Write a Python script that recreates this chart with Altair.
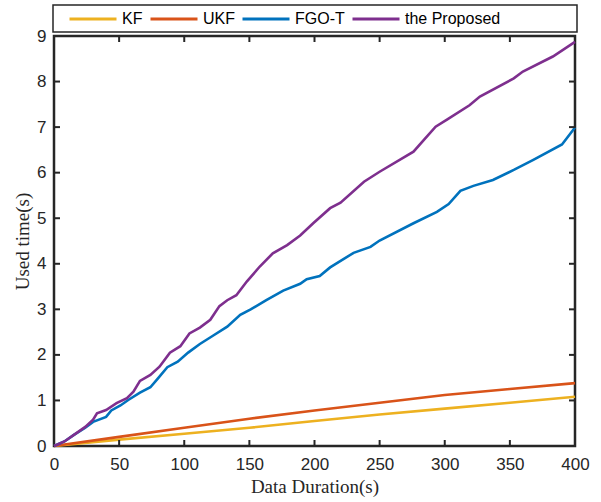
import altair as alt
import pandas as pd

# Series names and colours
series = ["KF", "UKF", "FGO-T", "the Proposed"]
colors = ["#EDB120", "#D95319", "#0072BD", "#7E2F8E"]

# Used time (s) against data duration (s) for each method
kf_t = [0, 50, 100, 150, 200, 250, 300, 350, 400]
kf_v = [0, 0.14, 0.27, 0.40, 0.55, 0.69, 0.82, 0.95, 1.08]

ukf_t = [0, 50, 100, 150, 200, 250, 300, 350, 400]
ukf_v = [0, 0.20, 0.40, 0.60, 0.78, 0.95, 1.12, 1.25, 1.38]

fgo_t = [0, 8, 15, 24, 30, 40, 44, 51, 57, 66, 74, 80, 87, 95, 103, 112, 122,
         133, 143, 151, 163, 176, 189, 194, 204, 212, 230, 243, 250, 276, 294,
         303, 312, 322, 337, 353, 368, 390, 400]
fgo_v = [0, 0.10, 0.24, 0.40, 0.53, 0.64, 0.78, 0.89, 1.01, 1.17, 1.29, 1.49,
         1.73, 1.85, 2.05, 2.24, 2.42, 2.62, 2.88, 3.00, 3.20, 3.41, 3.56, 3.66,
         3.73, 3.92, 4.24, 4.37, 4.51, 4.89, 5.14, 5.31, 5.60, 5.71, 5.84, 6.06,
         6.28, 6.62, 6.99]

prop_t = [0, 8, 15, 24, 30, 33, 40, 48, 56, 61, 66, 74, 81, 89, 97, 104, 112,
          120, 127, 133, 140, 148, 158, 168, 179, 189, 199, 212, 220, 238, 250,
          276, 284, 293, 302, 319, 327, 353, 360, 383, 400]
prop_v = [0, 0.10, 0.24, 0.42, 0.58, 0.72, 0.79, 0.94, 1.05, 1.19, 1.43, 1.56,
          1.74, 2.05, 2.19, 2.47, 2.60, 2.77, 3.07, 3.20, 3.31, 3.61, 3.94, 4.23,
          4.41, 4.62, 4.89, 5.22, 5.34, 5.80, 6.02, 6.46, 6.72, 7.01, 7.17, 7.48,
          7.67, 8.07, 8.22, 8.55, 8.87]

x_ticks = [0, 50, 100, 150, 200, 250, 300, 350, 400]
y_ticks = [0, 1, 2, 3, 4, 5, 6, 7, 8, 9]

W, H = 521, 410
AXIS = "#262626"
SANS = "Liberation Sans"
SERIF = "Liberation Serif"

frames = []
for name, t, v in [("KF", kf_t, kf_v), ("UKF", ukf_t, ukf_v),
                   ("FGO-T", fgo_t, fgo_v), ("the Proposed", prop_t, prop_v)]:
    frames.append(pd.DataFrame({"t": t, "v": v, "series": name}))

x_scale = alt.Scale(domain=[0, 400], nice=False, zero=False)
y_scale = alt.Scale(domain=[0, 9], nice=False)
color = alt.Color(
    "series:N",
    scale=alt.Scale(domain=series, range=colors),
    legend=alt.Legend(
        title=None, orient="none", direction="horizontal",
        legendX=14, legendY=-42, symbolType="stroke", symbolSize=2209,
        symbolStrokeWidth=3, labelFont=SANS, labelFontSize=16,
        labelColor="#000000", labelOffset=4, columnPadding=1, padding=0,
    ),
)

x_axis = alt.Axis(values=x_ticks, ticks=False, domain=False, grid=False,
                  labelFlush=False, labelFont=SANS, labelFontSize=17,
                  labelColor=AXIS, labelPadding=10, title="Data Duration(s)",
                  titleFont=SERIF, titleFontSize=19, titleFontWeight="normal",
                  titleColor=AXIS, titlePadding=5)
y_axis = alt.Axis(values=y_ticks, ticks=False, domain=False, grid=False,
                  labelFlush=False, labelFont=SANS, labelFontSize=17,
                  labelColor=AXIS, labelPadding=8, title="Used time(s)",
                  titleFont=SERIF, titleFontSize=19, titleFontWeight="normal",
                  titleColor=AXIS, titlePadding=4)

# Legend frame spanning the width of the plot above it
legend_box = alt.Chart(pd.DataFrame({"k": [0]})).mark_rect(
    fill="white", stroke=AXIS, strokeWidth=1.5
).encode(x=alt.value(-1), x2=alt.value(W + 2), y=alt.value(-31), y2=alt.value(-4))

lines = []
for df in frames:
    lines.append(
        alt.Chart(df).mark_line(strokeWidth=2.6).encode(
            x=alt.X("t:Q", scale=x_scale, axis=x_axis),
            y=alt.Y("v:Q", scale=y_scale, axis=y_axis),
            color=color,
        )
    )

# Inward-pointing tick marks on all four sides of the box
xt = pd.DataFrame({"t": x_ticks[1:-1]})
yt = pd.DataFrame({"v": y_ticks[1:-1]})
ticks_bottom = alt.Chart(xt).mark_rule(color=AXIS, strokeWidth=2).encode(
    x=alt.X("t:Q", scale=x_scale, axis=x_axis),
    y=alt.value(H - 6), y2=alt.value(H))
ticks_top = alt.Chart(xt).mark_rule(color=AXIS, strokeWidth=2).encode(
    x=alt.X("t:Q", scale=x_scale, axis=x_axis),
    y=alt.value(0), y2=alt.value(6))
ticks_left = alt.Chart(yt).mark_rule(color=AXIS, strokeWidth=2).encode(
    y=alt.Y("v:Q", scale=y_scale, axis=y_axis),
    x=alt.value(0), x2=alt.value(6))
ticks_right = alt.Chart(yt).mark_rule(color=AXIS, strokeWidth=2).encode(
    y=alt.Y("v:Q", scale=y_scale, axis=y_axis),
    x=alt.value(W - 6), x2=alt.value(W))

chart = alt.layer(
    legend_box, *lines, ticks_bottom, ticks_top, ticks_left, ticks_right
).properties(
    width=W, height=H,
    background="white",
    autosize=alt.AutoSizeParams(type="none"),
    padding={"left": 54, "top": 36, "right": 26, "bottom": 56},
).configure_view(
    stroke=AXIS, strokeWidth=2.5
)

chart.save("out.html", embed_options={"renderer": "svg", "actions": False})
